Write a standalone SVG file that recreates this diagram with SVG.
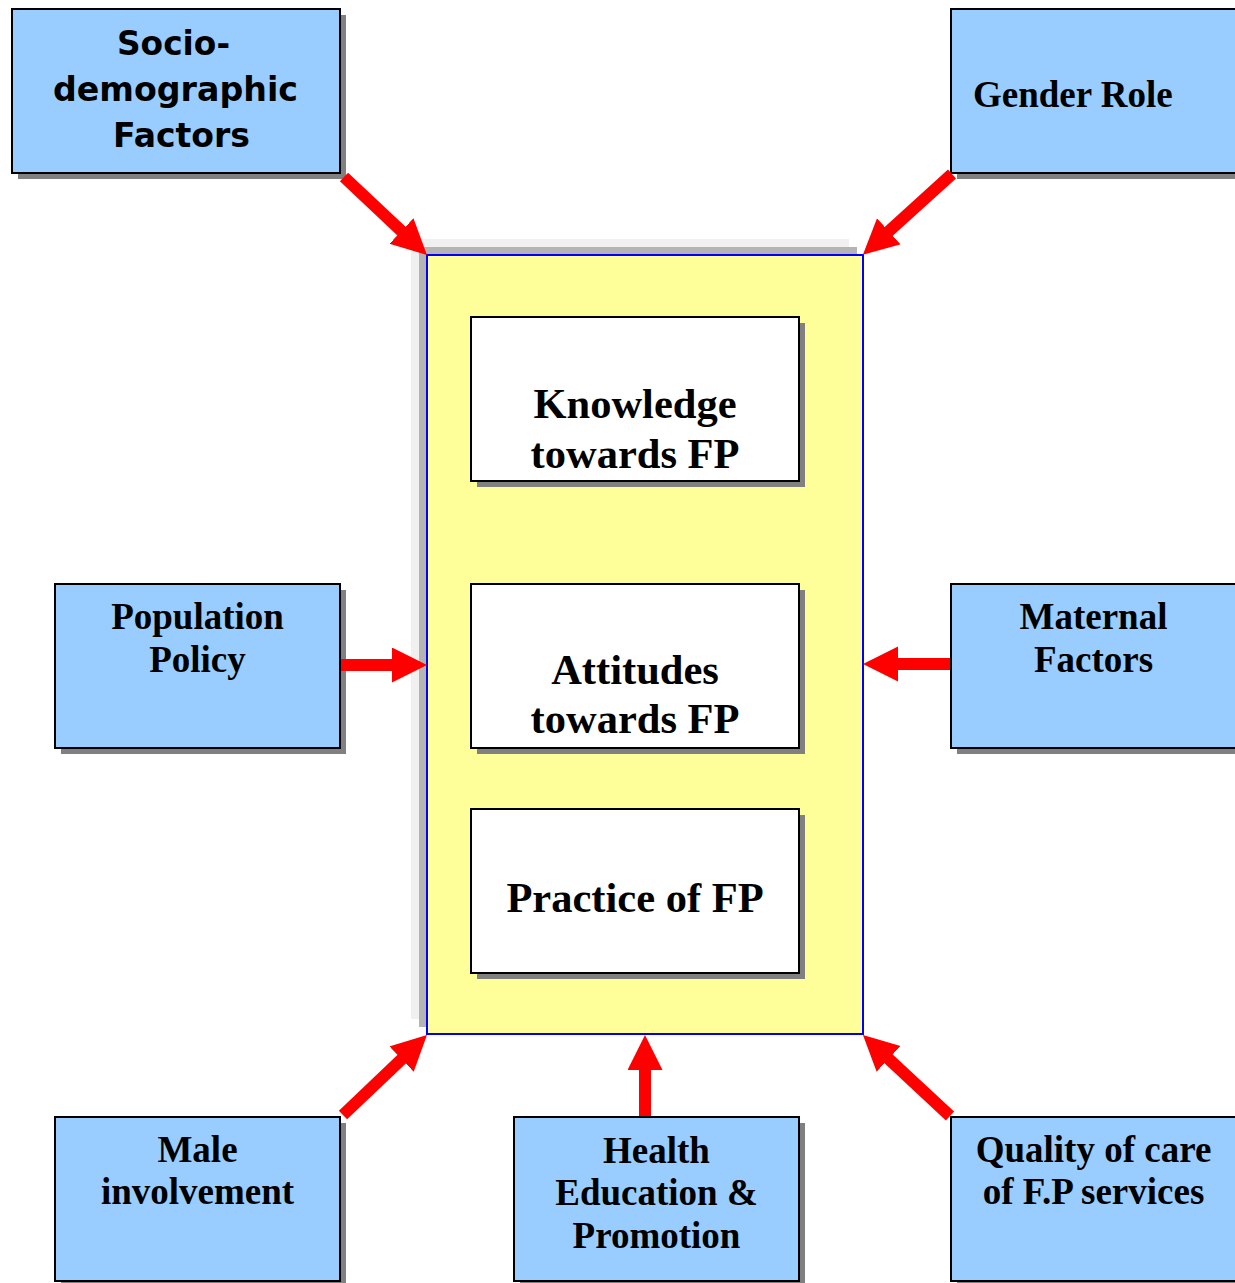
<svg xmlns="http://www.w3.org/2000/svg" width="1235" height="1283" viewBox="0 0 1235 1283">
<defs>
<style>
.blue{fill:#99ccff;stroke:#000;stroke-width:2}
.white{fill:#fff;stroke:#000;stroke-width:2}
.shadow{fill:#808080}
.t{font-family:"Liberation Serif","Times New Roman",serif;font-weight:bold;fill:#000;text-anchor:middle}
.tb{font-size:37px}
.tw{font-size:42.5px}
.s{font-family:"DejaVu Sans","Verdana",sans-serif;font-weight:bold;font-size:34px;fill:#000;text-anchor:middle}
.arrow{stroke:#ff0000;stroke-width:12;fill:none;marker-end:url(#head)}
</style>
<marker id="head" markerUnits="userSpaceOnUse" markerWidth="36" markerHeight="36" refX="15" refY="17.5" orient="auto" viewBox="0 0 36 36">
<path d="M0,0 L35,17.5 L0,35 Z" fill="#ff0000"/>
</marker>
</defs>
<rect width="1235" height="1283" fill="#fff"/>

<g id="center">
<rect x="411" y="239" width="438" height="780" fill="#f0f0f0"/>
<rect x="419" y="247" width="438" height="780" fill="#b4b4b4"/>
<rect x="427" y="255" width="436" height="779" fill="#ffff99" stroke="#0000ff" stroke-width="2"/>
</g>

<g id="knowledge">
<rect class="shadow" x="477" y="323" width="328" height="164"/>
<rect class="white" x="471" y="317" width="328" height="164"/>
<text class="t tw" x="635" y="418">Knowledge</text>
<text class="t tw" x="635" y="468">towards FP</text>
</g>

<g id="attitudes">
<rect class="shadow" x="477" y="590" width="328" height="164"/>
<rect class="white" x="471" y="584" width="328" height="164"/>
<text class="t tw" x="635" y="684">Attitudes</text>
<text class="t tw" x="635" y="733">towards FP</text>
</g>

<g id="practice">
<rect class="shadow" x="477" y="815" width="328" height="164"/>
<rect class="white" x="471" y="809" width="328" height="164"/>
<text class="t tw" x="635" y="912">Practice of FP</text>
</g>

<g id="socio">
<rect class="shadow" x="18" y="15" width="328" height="164"/>
<rect class="blue" x="12" y="9" width="328" height="164"/>
<text class="s" x="173.5" y="55" textLength="113" lengthAdjust="spacingAndGlyphs">Socio-</text>
<text class="s" x="175.5" y="101" textLength="245" lengthAdjust="spacingAndGlyphs">demographic</text>
<text class="s" x="181.5" y="147" textLength="137" lengthAdjust="spacingAndGlyphs">Factors</text>
</g>

<g id="gender">
<rect class="shadow" x="957" y="15" width="285" height="164"/>
<rect class="blue" x="951" y="9" width="285" height="164"/>
<text class="t tb" x="973" y="107" style="text-anchor:start">Gender Role</text>
</g>

<g id="population">
<rect class="shadow" x="61" y="590" width="285" height="164"/>
<rect class="blue" x="55" y="584" width="285" height="164"/>
<text class="t tb" x="197.5" y="629">Population</text>
<text class="t tb" x="197.5" y="672">Policy</text>
</g>

<g id="maternal">
<rect class="shadow" x="957" y="590" width="285" height="164"/>
<rect class="blue" x="951" y="584" width="285" height="164"/>
<text class="t tb" x="1093.5" y="629">Maternal</text>
<text class="t tb" x="1093.5" y="672">Factors</text>
</g>

<g id="male">
<rect class="shadow" x="61" y="1123" width="285" height="164"/>
<rect class="blue" x="55" y="1117" width="285" height="164"/>
<text class="t tb" x="197.5" y="1162">Male</text>
<text class="t tb" x="197.5" y="1204">involvement</text>
</g>

<g id="health">
<rect class="shadow" x="520" y="1123" width="285" height="164"/>
<rect class="blue" x="514" y="1117" width="285" height="164"/>
<text class="t tb" x="656.5" y="1163">Health</text>
<text class="t tb" x="656.5" y="1205">Education &amp;</text>
<text class="t tb" x="656.5" y="1248">Promotion</text>
</g>

<g id="quality">
<rect class="shadow" x="957" y="1123" width="285" height="164"/>
<rect class="blue" x="951" y="1117" width="285" height="164"/>
<text class="t tb" x="1093.5" y="1162">Quality of care</text>
<text class="t tb" x="1093.5" y="1204">of F.P services</text>
</g>

<g id="connectors">
<path class="arrow" d="M344,177 L412.4,241.3"/>
<path class="arrow" d="M952,174 L877.7,241.4"/>
<path class="arrow" d="M341,665 L407,665"/>
<path class="arrow" d="M950,664 L883,664"/>
<path class="arrow" d="M343,1115 L412.5,1048.8"/>
<path class="arrow" d="M645,1116 L645,1055"/>
<path class="arrow" d="M950,1116 L877.6,1048.6"/>
</g>
</svg>
